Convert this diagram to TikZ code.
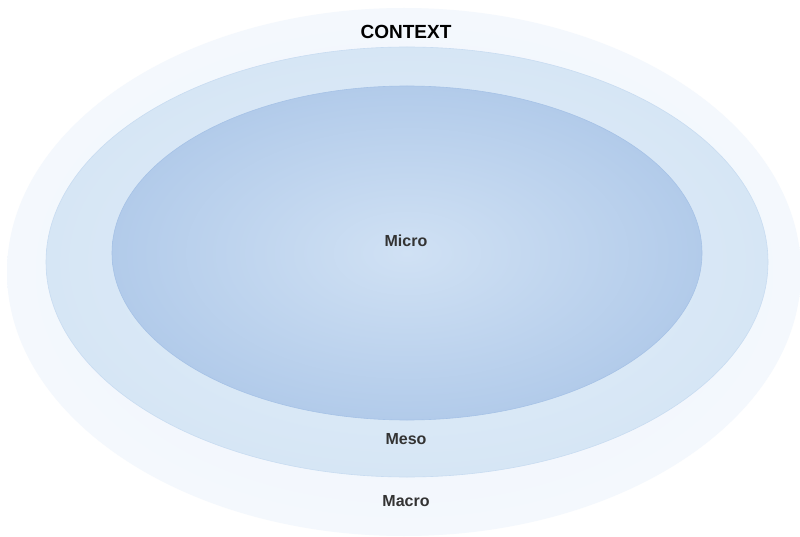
\documentclass[tikz,border=0pt]{standalone}
\usepackage{fontspec}
\setmainfont{Liberation Sans}
\definecolor{outerA}{HTML}{F4F8FD}
\definecolor{outerB}{HTML}{EDF4FB}
\definecolor{midA}{HTML}{E3EEF9}
\definecolor{midB}{HTML}{D6E6F5}
\definecolor{midline}{HTML}{C8DCF1}
\definecolor{innA}{HTML}{D0E1F4}
\definecolor{innB}{HTML}{B2CBEA}
\definecolor{innline}{HTML}{A6C2E6}
\definecolor{txt}{HTML}{333333}
\tikzset{
  lbl/.style={font=\bfseries\fontsize{16}{18}\selectfont, text=txt, inner sep=0pt},
  ttl/.style={font=\bfseries\fontsize{19}{21}\selectfont, text=black, inner sep=0pt}
}
\begin{document}
\begin{tikzpicture}[x=1pt,y=-1pt]
\useasboundingbox (0,0) rectangle (800,537);
\fill[white] (0,0) rectangle (800,537);
\shade[inner color=outerB, outer color=outerA] (404,272) ellipse [x radius=397, y radius=264];
\shade[inner color=midA, outer color=midB] (407,262) ellipse [x radius=361, y radius=215];
\draw[midline, line width=0.6pt] (407,262) ellipse [x radius=361, y radius=215];
\shade[inner color=innA, outer color=innB] (407,253) ellipse [x radius=295, y radius=167];
\draw[innline, line width=0.6pt] (407,253) ellipse [x radius=295, y radius=167];
\node[ttl] (context) at (406,32) {CONTEXT};
\node[lbl] (micro) at (406,241) {Micro};
\node[lbl] (meso) at (406,439) {Meso};
\node[lbl] (macro) at (406,501) {Macro};
\end{tikzpicture}
\end{document}
